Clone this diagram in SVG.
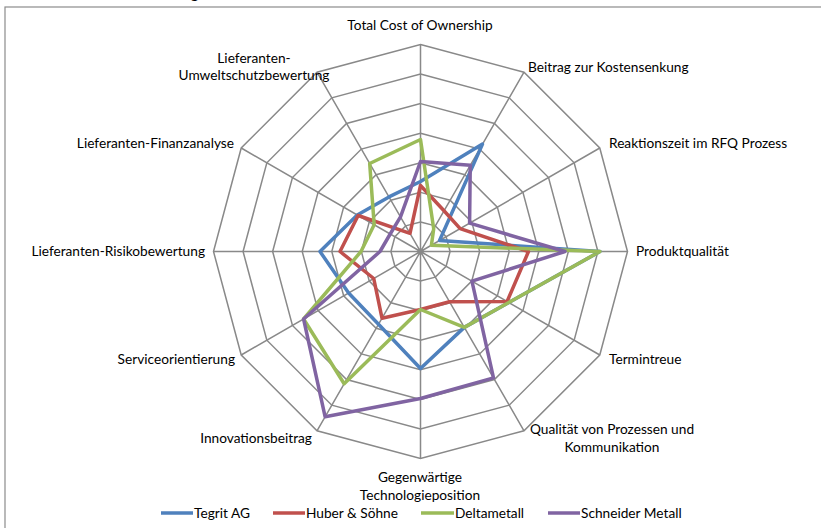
<svg xmlns="http://www.w3.org/2000/svg" width="821" height="528" viewBox="0 0 821 528">
<style>
.grid{fill:none;stroke:#898989;stroke-width:1.5}
.ser{fill:none;stroke-width:3.5;stroke-linejoin:round}
.lbl{font-family:Lato,"Open Sans",sans-serif;font-size:13.7px;fill:#000}
.s1{stroke:#4F81BD}.s2{stroke:#C0504D}.s3{stroke:#9BBB59}.s4{stroke:#8064A2}
</style>
<rect x="0" y="0" width="821" height="528" fill="#fff"/>
<text x="191" y="-1" style="font-family:Lato,sans-serif;font-size:14px;font-weight:bold" fill="#000">g</text>
<rect x="5" y="7" width="830" height="540" fill="none" stroke="#8c8c8c" stroke-width="1.2"/>
<g id="grid" transform="translate(420.5,251.5)">
<polygon class="grid" points="0,-29.57 14.79,-25.61 25.61,-14.79 29.57,0 25.61,14.79 14.79,25.61 0,29.57 -14.79,25.61 -25.61,14.79 -29.57,0 -25.61,-14.79 -14.79,-25.61"/>
<polygon class="grid" points="0,-59.14 29.57,-51.22 51.22,-29.57 59.14,0 51.22,29.57 29.57,51.22 0,59.14 -29.57,51.22 -51.22,29.57 -59.14,0 -51.22,-29.57 -29.57,-51.22"/>
<polygon class="grid" points="0,-88.71 44.36,-76.83 76.83,-44.36 88.71,0 76.83,44.36 44.36,76.83 0,88.71 -44.36,76.83 -76.83,44.36 -88.71,0 -76.83,-44.36 -44.36,-76.83"/>
<polygon class="grid" points="0,-118.29 59.14,-102.44 102.44,-59.14 118.29,0 102.44,59.14 59.14,102.44 0,118.29 -59.14,102.44 -102.44,59.14 -118.29,0 -102.44,-59.14 -59.14,-102.44"/>
<polygon class="grid" points="0,-147.86 73.93,-128.05 128.05,-73.93 147.86,0 128.05,73.93 73.93,128.05 0,147.86 -73.93,128.05 -128.05,73.93 -147.86,0 -128.05,-73.93 -73.93,-128.05"/>
<polygon class="grid" points="0,-177.43 88.71,-153.66 153.66,-88.71 177.43,0 153.66,88.71 88.71,153.66 0,177.43 -88.71,153.66 -153.66,88.71 -177.43,0 -153.66,-88.71 -88.71,-153.66"/>
<polygon class="grid" points="0,-207 103.5,-179.27 179.27,-103.5 207,0 179.27,103.5 103.5,179.27 0,207 -103.5,179.27 -179.27,103.5 -207,0 -179.27,-103.5 -103.5,-179.27"/>
<path class="grid" d="M0,0V-207M0,0L103.5,-179.27M0,0L179.27,-103.5M0,0H207M0,0L179.27,103.5M0,0L103.5,179.27M0,0V207M0,0L-103.5,179.27M0,0L-179.27,103.5M0,0H-207M0,0L-179.27,-103.5M0,0L-103.5,-179.27"/>
</g>
<g id="connectors" transform="translate(420.5,251.5)">
<polygon id="tegrit" class="ser s1" points="0,-70 62,-107.39 19.05,-11 179.5,0 88.3,50.98 43.8,75.86 0,117 -42,72.75 -71.88,41.5 -100.5,0 -63.22,-36.5 -31.5,-54.56"/>
<polygon id="huber" class="ser s2" points="0,-66 23.5,-40.7 39.66,-22.9 108,0 86.6,50 29,50.23 0,58 -38.5,66.68 -46.77,27 -80.5,0 -62.35,-36 -10.5,-18.19"/>
<polygon id="delta" class="ser s3" points="0,-112 13.2,-22.86 10.91,-6.3 179.5,0 88.3,50.98 43.8,75.86 0,58 -76.35,132.24 -116.91,67.5 -59.5,0 -46.33,-26.75 -50.8,-87.99"/>
<polygon id="schneider" class="ser s4" points="0,-90 49.75,-86.17 49.1,-28.35 144.5,0 51.44,29.7 73,126.44 0,147 -95.4,165.24 -116.91,67.5 -40.5,0 -30.31,-17.5 -20,-34.64"/>
</g>
<g id="labels" class="lbl">
<text x="420" y="30" text-anchor="middle">Total Cost of Ownership</text>
<text x="528" y="72">Beitrag zur Kostensenkung</text>
<text x="609" y="148">Reaktionszeit im RFQ Prozess</text>
<text x="636" y="256">Produktqualität</text>
<text x="609" y="364">Termintreue</text>
<text x="612" y="434" text-anchor="middle">Qualität von Prozessen und<tspan x="612" y="452">Kommunikation</tspan></text>
<text x="420" y="482" text-anchor="middle">Gegenwärtige<tspan x="420" y="500">Technologieposition</tspan></text>
<text x="312" y="443" text-anchor="end">Innovationsbeitrag</text>
<text x="235" y="364" text-anchor="end">Serviceorientierung</text>
<text x="205" y="256" text-anchor="end">Lieferanten-Risikobewertung</text>
<text x="234" y="148" text-anchor="end">Lieferanten-Finanzanalyse</text>
<text x="254" y="63" text-anchor="middle">Lieferanten-<tspan x="254" y="80">Umweltschutzbewertung</tspan></text>
</g>
<g id="legend">
<line class="ser s1" x1="161" y1="513" x2="193" y2="513"/>
<text class="lbl" x="194" y="518">Tegrit AG</text>
<line class="ser s2" x1="273" y1="513" x2="305" y2="513"/>
<text class="lbl" x="306" y="518">Huber &amp; Söhne</text>
<line class="ser s3" x1="421" y1="513" x2="454" y2="513"/>
<text class="lbl" x="455" y="518">Deltametall</text>
<line class="ser s4" x1="548" y1="513" x2="580" y2="513"/>
<text class="lbl" x="581" y="518">Schneider Metall</text>
</g>
</svg>
